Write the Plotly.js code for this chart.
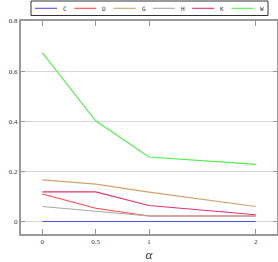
<!DOCTYPE html>
<html>
<head>
<meta charset="utf-8">
<script src="https://cdn.plot.ly/plotly-3.0.1.min.js"></script>
<style>html,body{margin:0;padding:0;background:#fff;}#chart{width:278px;height:262px;}</style>
</head>
<body>
<div id="chart"></div>
<script>
const alphas = [0, 0.5, 1, 2];
const alphaLabels = ['0', '0.5', '1', '2'];
const yTicks = [0, 0.2, 0.4, 0.6, 0.8];
const yLabels = ['0', '0.2', '0.4', '0.6', '0.8'];
const seriesNames = ['C', 'D', 'G', 'H', 'K', 'W'];
const C = [0, 0, 0, 0];
const D = [0.11, 0.053, 0.022, 0.022];
const G = [0.166, 0.149, 0.117, 0.06];
const H = [0.06, 0.04, 0.022, 0.022];
const K = [0.118, 0.118, 0.064, 0.027];
const W = [0.674, 0.402, 0.257, 0.228];
const seriesValues = [C, D, G, H, K, W];
const colors = ['#5050e8', '#ff4a4a', '#d6a06a', '#a8a8a8', '#dc3470', '#4cf04c'];

const traces = seriesNames.map((n, i) => ({
  x: alphas, y: seriesValues[i], name: n, type: 'scatter', mode: 'lines',
  line: {color: colors[i], width: 1.1}, showlegend: false
}));

// Plot area geometry (pixels) for the custom compact legend
const M = {l: 21, r: 1, t: 21, b: 28};
const W_ = 278, H_ = 262;
const pw = W_ - M.l - M.r, ph = H_ - M.t - M.b;
const px = x => (x - M.l) / pw;
const py = y => (H_ - M.b - y) / ph;

const shapes = [{
  type: 'rect', xref: 'paper', yref: 'paper',
  x0: px(31), x1: px(268), y0: py(15.5), y1: py(1),
  line: {color: '#333', width: 1}, fillcolor: '#fff'
}];
const annotations = [];
seriesNames.forEach((n, i) => {
  const x0 = 35 + 39.3 * i;
  shapes.push({type: 'line', xref: 'paper', yref: 'paper',
    x0: px(x0), x1: px(x0 + 22), y0: py(8.3), y1: py(8.3),
    line: {color: colors[i], width: 1.1}});
  annotations.push({xref: 'paper', yref: 'paper', x: px(x0 + 26), y: py(8.3),
    xanchor: 'left', yanchor: 'middle', text: n, showarrow: false,
    font: {family: 'DejaVu Sans Mono', size: 6, color: '#333'}});
});

const layout = {
  width: W_, height: H_,
  margin: M,
  paper_bgcolor: '#fff', plot_bgcolor: '#fff',
  showlegend: false,
  shapes: shapes, annotations: annotations,
  xaxis: {
    range: [-0.2, 2.2], tickvals: alphas, ticktext: alphaLabels,
    showgrid: false, zeroline: false,
    showline: true, linecolor: '#999', linewidth: 2, mirror: 'allticks',
    ticks: 'inside', ticklen: 5, tickcolor: '#999', tickwidth: 1,
    tickfont: {family: 'Liberation Serif', size: 7, color: '#333'},
    title: {text: 'α', font: {family: 'Liberation Serif', size: 13, color: '#333', style: 'italic'}, standoff: 6}
  },
  yaxis: {
    range: [-0.05, 0.8], tickvals: yTicks, ticktext: yLabels,
    showgrid: true, gridcolor: '#d6d6d6', gridwidth: 1, zeroline: false,
    showline: true, linecolor: '#999', linewidth: 2, mirror: 'allticks',
    ticks: 'inside', ticklen: 4, tickcolor: '#999', tickwidth: 1,
    tickfont: {family: 'Liberation Serif', size: 7, color: '#333'}
  }
};

Plotly.newPlot('chart', traces, layout, {staticPlot: true, displayModeBar: false});
</script>
</body>
</html>
